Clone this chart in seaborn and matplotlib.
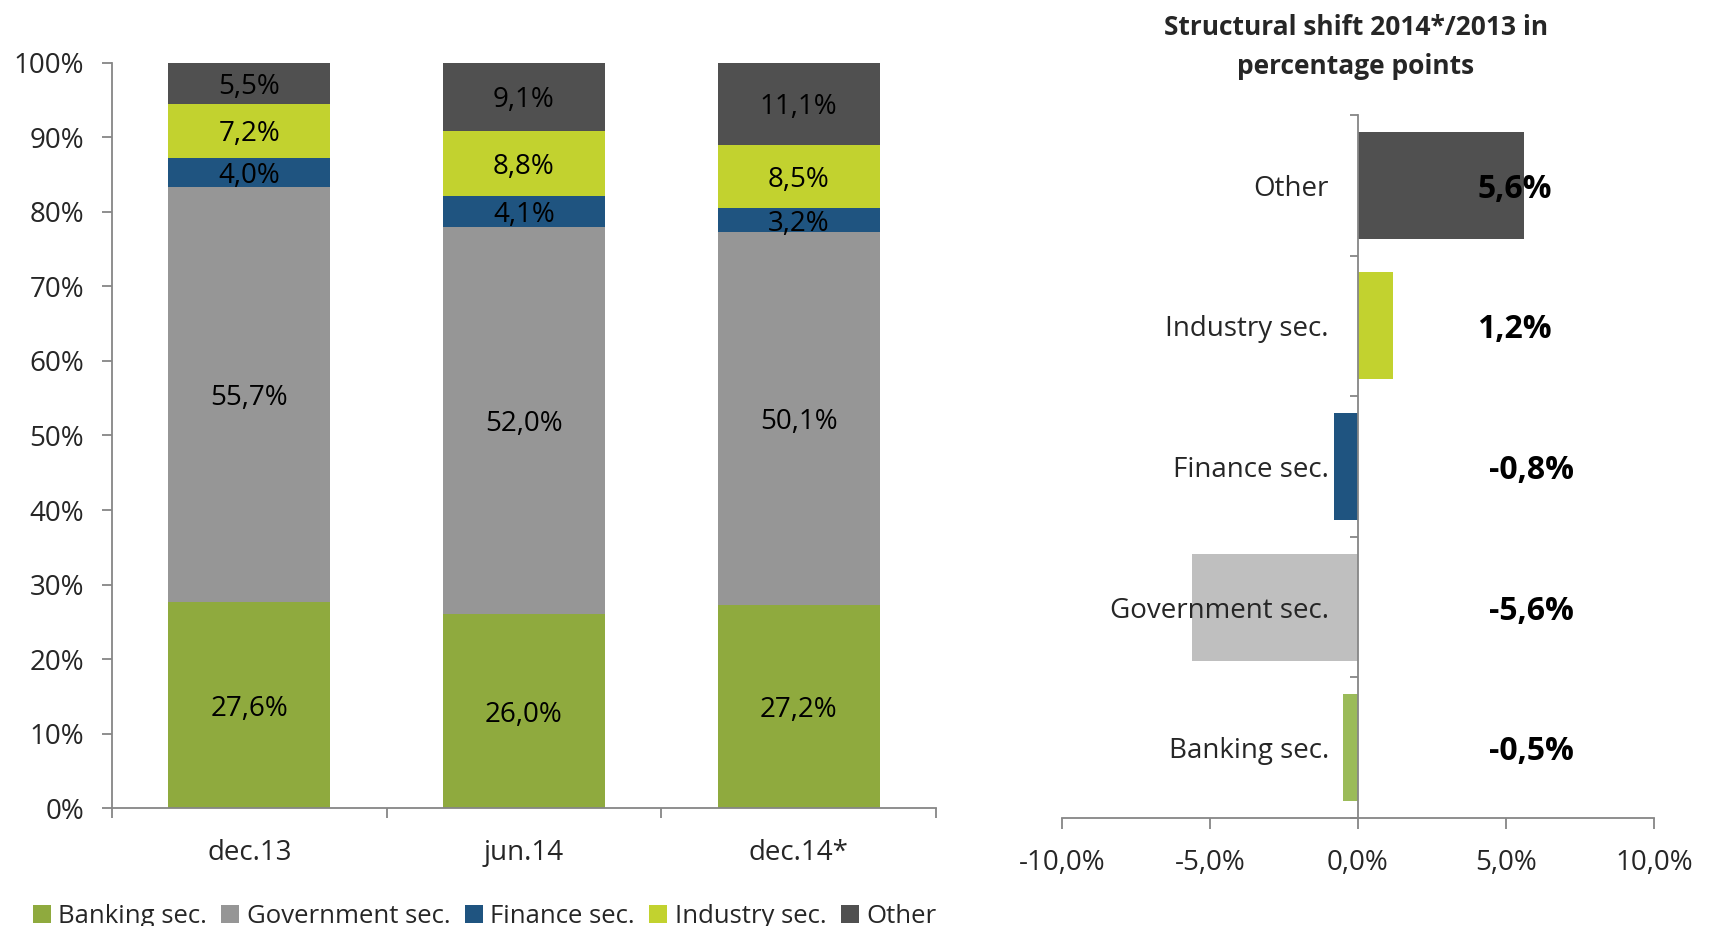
import matplotlib
matplotlib.use("Agg")
import matplotlib.pyplot as plt
from matplotlib.patches import Patch
import seaborn as sns
import pandas as pd

# Structure of holdings by sector (%)
periods = ["dec.13", "jun.14", "dec.14*"]
sectors = ["Banking sec.", "Government sec.", "Finance sec.", "Industry sec.", "Other"]
banking = [27.6, 26.0, 27.2]
government = [55.7, 52.0, 50.1]
finance = [4.0, 4.1, 3.2]
industry = [7.2, 8.8, 8.5]
other = [5.5, 9.1, 11.1]

# Structural shift 2014*/2013 (percentage points)
shift_labels = ["Other", "Industry sec.", "Finance sec.", "Government sec.", "Banking sec."]
shift_values = [5.6, 1.2, -0.8, -5.6, -0.5]

stack_colors = ["#8faa3e", "#969696", "#1f5480", "#c2d22f", "#505050"]
shift_colors = ["#505050", "#c2d22f", "#1f5480", "#bfbfbf", "#9bbb59"]
axis_color = "#868686"

sns.set_style("white")
plt.rcParams["font.family"] = ["Open Sans", "DejaVu Sans"]
FS = 20


def pct(v, dec=1):
    return f"{v:.{dec}f}".replace(".", ",") + "%"


shares = pd.DataFrame({"period": periods, "Banking sec.": banking,
                       "Government sec.": government, "Finance sec.": finance,
                       "Industry sec.": industry, "Other": other})
long = shares.melt(id_vars="period", var_name="sector", value_name="share")
long["top"] = long.groupby("period")["share"].cumsum()

fig = plt.figure(figsize=(17.12, 9.26), dpi=100)
ax = fig.add_axes([0.0654, 0.1274, 0.4813, 0.8046])
ax2 = fig.add_axes([0.6203, 0.1166, 0.3458, 0.7592])

# stacked bars: draw cumulative totals from the top layer down
for sector, color in reversed(list(zip(sectors, stack_colors))):
    sub = long[long["sector"] == sector]
    sns.barplot(data=sub, x="period", y="top", order=periods, color=color,
                saturation=1, width=0.59, edgecolor="none", ax=ax)

for _, row in long.iterrows():
    ax.text(periods.index(row["period"]), row["top"] - row["share"] / 2, pct(row["share"]),
            ha="center", va="center_baseline", fontsize=FS, color="black")

ax.set_ylim(0, 100)
ax.set_xlim(-0.5, 2.5)
ax.set_yticks(range(0, 101, 10))
ax.set_yticklabels([f"{v}%" for v in range(0, 101, 10)])
ax.set_xticks([-0.5, 0.5, 1.5, 2.5], minor=True)
ax.set_xlabel("")
ax.set_ylabel("")
ax.tick_params(axis="y", which="major", direction="out", length=7, width=1.3,
               color=axis_color, left=True, pad=13, labelsize=FS)
ax.tick_params(axis="x", which="major", length=0, pad=22, labelsize=FS)
ax.tick_params(axis="x", which="minor", direction="out", length=7, width=1.3,
               color=axis_color, bottom=True)
for s in ["top", "right"]:
    ax.spines[s].set_visible(False)
for s in ["left", "bottom"]:
    ax.spines[s].set_color(axis_color)
    ax.spines[s].set_linewidth(1.3)

# shift chart
sns.barplot(x=shift_values, y=shift_labels, hue=shift_labels, palette=shift_colors,
            legend=False, orient="h", width=0.76, saturation=1, edgecolor="none", ax=ax2)
ax2.set_axisbelow(False)
ax2.set_xlim(-10, 10)
ax2.set_ylim(4.5, -0.5)
ax2.set_xticks([-10, -5, 0, 5, 10])
ax2.set_xticklabels([pct(v) for v in [-10, -5, 0, 5, 10]])
ax2.set_yticks([-0.5, 0.5, 1.5, 2.5, 3.5, 4.5], minor=True)
ax2.spines["left"].set_position(("data", 0))
for s in ["top", "right"]:
    ax2.spines[s].set_visible(False)
for s in ["left", "bottom"]:
    ax2.spines[s].set_color(axis_color)
    ax2.spines[s].set_linewidth(1.3)
ax2.tick_params(axis="x", which="major", direction="out", length=8, width=1.3,
                color=axis_color, bottom=True, pad=14, labelsize=FS)
ax2.tick_params(axis="y", which="major", length=0, pad=21, labelsize=FS)
ax2.tick_params(axis="y", which="minor", direction="out", length=6, width=1.3,
                color=axis_color, left=True)

for i, v in enumerate(shift_values):
    ax2.text(5.3 if v > 0 else 5.85, i, pct(v), ha="center", va="center_baseline",
             fontsize=23, fontweight="bold", color="black")

fig.text(0.792, 0.9705, "Structural shift 2014*/2013 in", ha="center", va="center",
         fontsize=19, fontweight="bold")
fig.text(0.792, 0.9285, "percentage points", ha="center", va="center",
         fontsize=19, fontweight="bold")

handles = [Patch(facecolor=c, edgecolor="none", label=s) for s, c in zip(sectors, stack_colors)]
fig.legend(handles=handles, loc="center left", bbox_to_anchor=(0.019, 0.01), ncol=5,
           frameon=False, fontsize=18.5, handlelength=0.7, handleheight=0.7,
           handletextpad=0.3, columnspacing=0.55, borderaxespad=0, borderpad=0)

fig.savefig("out.png", dpi=100)
